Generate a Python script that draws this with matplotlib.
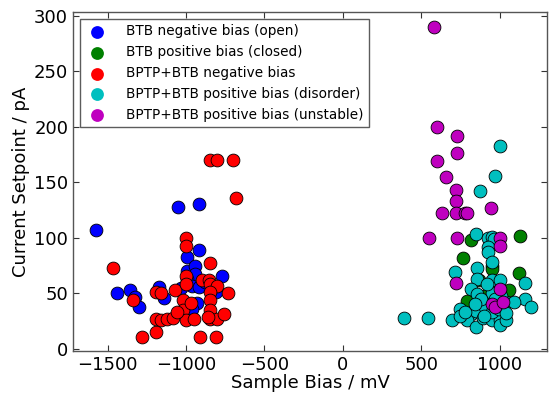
import matplotlib
matplotlib.use("Agg")
import matplotlib.pyplot as plt

# BTB negative bias (open)
btb_neg_x = [-1571, -1440, -1356, -1322, -1300, -1169, -1140, -1051, -918, -918, -991, -991,
             -944, -944, -991, -962, -918, -929, -962, -773, -807, -1033, -880]
btb_neg_y = [107, 50, 53, 47, 38, 56, 46, 128, 130, 89, 83, 70,
             75, 67, 63, 57, 56, 41, 36, 66, 51, 55, 60]

# BTB positive bias (closed)
btb_pos_x = [1131, 767, 816, 949, 949, 1122, 1056, 793, 904, 870, 960]
btb_pos_y = [102, 82, 98, 75, 72, 68, 53, 43, 48, 62, 55]

# BPTP+BTB negative bias
bptp_neg_x = [-1462, -1340, -1278, -1191, -1191, -1162, -1191, -1162, -1118, -1080, -1069,
              -1000, -1000, -1000, -1000, -1018, -1022, -1000, -969, -951, -1056, -911,
              -844, -844, -800, -700, -684, -896, -851, -844, -800, -844, -844, -844,
              -844, -800, -756, -733, -811, -862]
bptp_neg_y = [73, 44, 11, 15, 27, 26, 51, 50, 27, 28, 53,
              100, 93, 66, 58, 44, 35, 26, 41, 27, 33, 11,
              77, 170, 170, 170, 136, 62, 62, 58, 57, 51, 44, 35,
              27, 27, 31, 50, 11, 29]

# BPTP+BTB positive bias (disorder)
bptp_dis_x = [387, 544, 693, 716, 998, 967, 871, 851, 927, 949, 965, 927, 927, 949, 856, 856,
              949, 998, 1160, 816, 856, 949, 1038, 1160, 1200, 1093, 749, 816, 793, 851,
              851, 893, 949, 998, 998, 1038, 904, 949, 993, 749, 780, 880, 920, 1010, 840,
              900, 970, 1040]
bptp_dis_y = [27.6, 27.6, 26, 69, 183, 156, 142, 103, 100, 101, 99, 92, 87, 78, 73, 63,
              62, 62, 59, 54, 49, 50, 42, 45, 38, 42, 36, 31.5, 26, 19.5,
              34.5, 27.6, 26, 26, 21.6, 26, 37.5, 33, 36, 30, 33, 45, 58, 48, 40,
              30, 45, 32]

# BPTP+BTB positive bias (unstable)
bptp_uns_x = [582, 598, 727, 727, 598, 660, 722, 722, 633, 722, 776, 789, 944, 549, 727,
              998, 998, 722, 998, 949, 971, 1020]
bptp_uns_y = [290, 200, 192, 176, 169, 155, 143, 133, 122, 122, 122, 122, 127, 100, 100,
              100, 93, 59, 54, 40.5, 37.5, 42]

series = [
    (btb_neg_x, btb_neg_y, (0, 0, 1), "BTB negative bias (open)"),
    (btb_pos_x, btb_pos_y, (0, 0.5, 0), "BTB positive bias (closed)"),
    (bptp_neg_x, bptp_neg_y, (1, 0, 0), "BPTP+BTB negative bias"),
    (bptp_dis_x, bptp_dis_y, (0, 0.75, 0.75), "BPTP+BTB positive bias (disorder)"),
    (bptp_uns_x, bptp_uns_y, (0.75, 0, 0.75), "BPTP+BTB positive bias (unstable)"),
]

plt.rcParams['font.family'] = ['DejaVu Sans']
fig = plt.figure(figsize=(5.53, 3.95), dpi=100)
ax = fig.add_axes([0.132, 0.111, 0.857, 0.858])

for x, y, c, lab in series:
    ax.scatter(x, y, s=85, c=[c], edgecolors='black', linewidths=0.6, label=lab, zorder=3)

ax.set_xlim(-1720, 1300)
ax.set_ylim(-2, 303)
ax.set_xticks([-1500, -1000, -500, 0, 500, 1000])
ax.set_yticks([0, 50, 100, 150, 200, 250, 300])
ax.tick_params(direction='in', top=True, right=True, labelsize=13, length=4, width=0.8,
               colors='#333333', labelcolor='black')
for sp in ax.spines.values():
    sp.set_color('#555555')
    sp.set_linewidth(1.0)

ax.set_xlabel("Sample Bias / mV", fontsize=13, labelpad=0)
ax.set_ylabel("Current Setpoint / pA", fontsize=13, labelpad=3)

leg = ax.legend(loc='upper left', fontsize=9.8, scatterpoints=1, frameon=True, fancybox=False,
                borderaxespad=0.5, handletextpad=1.2, labelspacing=0.5, borderpad=0.4,
                handlelength=1.8)
leg.get_frame().set_edgecolor('#333333')
leg.get_frame().set_linewidth(1.0)
for h in leg.legend_handles:
    h.set_linewidth(0)

fig.savefig("out.png", dpi=100, facecolor='white')
